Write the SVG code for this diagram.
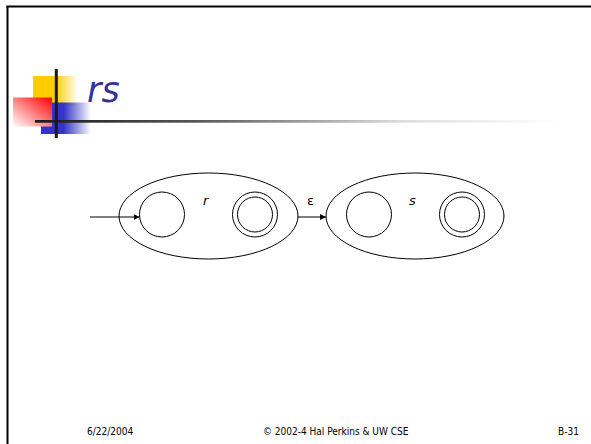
<svg xmlns="http://www.w3.org/2000/svg" width="591" height="444" viewBox="0 0 591 444">
  <defs>
    <linearGradient id="gYellow" x1="0" y1="0" x2="1" y2="0">
      <stop offset="0" stop-color="#ffcc00"/>
      <stop offset="0.5" stop-color="#ffcc00"/>
      <stop offset="1" stop-color="#ffcc00" stop-opacity="0"/>
    </linearGradient>
    <linearGradient id="gBlue" x1="0" y1="0" x2="1" y2="0">
      <stop offset="0" stop-color="#3333cc"/>
      <stop offset="0.45" stop-color="#3333cc"/>
      <stop offset="1" stop-color="#3333cc" stop-opacity="0"/>
    </linearGradient>
    <linearGradient id="gRed" x1="1" y1="0" x2="0" y2="1">
      <stop offset="0" stop-color="#ff0000"/>
      <stop offset="1" stop-color="#ffffff"/>
    </linearGradient>
    <linearGradient id="gRule" x1="0" y1="0" x2="1" y2="0">
      <stop offset="0" stop-color="#1a1a1a"/>
      <stop offset="0.3" stop-color="#555555"/>
      <stop offset="0.7" stop-color="#dddddd"/>
      <stop offset="1" stop-color="#ffffff"/>
    </linearGradient>
    <marker id="arrow" viewBox="0 0 10 10" refX="10" refY="5" markerWidth="6" markerHeight="6" markerUnits="userSpaceOnUse" orient="auto">
      <path d="M0,0 L10,5 L0,10 z" fill="#000"/>
    </marker>
  </defs>
  <style>
    .state { fill: none; stroke: #000; stroke-width: 1; }
    .box { fill: none; stroke: #000; stroke-width: 1; }
    .edge { stroke: #000; stroke-width: 1; fill: none; marker-end: url(#arrow); }
    .lbl { font-family: "DejaVu Sans", sans-serif; font-size: 13px; font-style: italic; fill: #000; }
    .foot { font-family: "DejaVu Sans Condensed", "DejaVu Sans", sans-serif; font-size: 10px; fill: #000; }
  </style>

  <rect width="591" height="444" fill="#ffffff"/>

  <!-- slide frame (top and left edges) -->
  <g id="frame">
    <line x1="6.5" y1="6.5" x2="591" y2="6.5" stroke="#000" stroke-width="2"/>
    <line x1="7.5" y1="6" x2="7.5" y2="444" stroke="#000" stroke-width="2"/>
  </g>

  <!-- title ornament -->
  <g id="ornament">
    <rect x="33" y="76" width="45" height="30" fill="url(#gYellow)"/>
    <rect x="41" y="102.5" width="50" height="31.5" fill="url(#gBlue)"/>
    <rect x="13" y="97.5" width="39" height="29" fill="url(#gRed)"/>
    <rect x="35" y="120" width="525" height="2.7" fill="url(#gRule)"/>
    <rect x="54.8" y="69" width="3" height="69" fill="#1a1a1a"/>
  </g>

  <text id="title" x="87" y="102" font-family="DejaVu Sans, sans-serif" font-size="35" font-style="italic" fill="#333399">rs</text>

  <!-- machine for r -->
  <g id="machine-r">
    <ellipse class="box" cx="208.5" cy="216" rx="89.5" ry="43"/>
    <text class="lbl" x="203" y="205">r</text>
  </g>
  <g id="r-start">
    <circle class="state" cx="162" cy="214.5" r="22.5"/>
  </g>
  <g id="r-final">
    <circle class="state" cx="255" cy="214.5" r="22.5"/>
    <circle class="state" cx="255" cy="214.5" r="17.5"/>
  </g>

  <!-- machine for s -->
  <g id="machine-s">
    <ellipse class="box" cx="415" cy="216" rx="89" ry="43"/>
    <text class="lbl" x="409" y="205">s</text>
  </g>
  <g id="s-start">
    <circle class="state" cx="369" cy="214.5" r="22.5"/>
  </g>
  <g id="s-final">
    <circle class="state" cx="462" cy="214.5" r="22.5"/>
    <circle class="state" cx="462" cy="214.5" r="17.5"/>
  </g>

  <!-- connectors -->
  <g id="connectors">
    <line class="edge" x1="90" y1="217" x2="139.5" y2="217"/>
    <line class="edge" x1="298" y1="217" x2="326" y2="217"/>
    <text x="307" y="205" font-family="DejaVu Sans, sans-serif" font-size="13" fill="#000">ε</text>
  </g>

  <!-- footer -->
  <g id="footer">
    <text class="foot" x="87" y="435">6/22/2004</text>
    <text class="foot" x="263" y="435">© 2002-4 Hal Perkins &amp; UW CSE</text>
    <text class="foot" x="558" y="435">B-31</text>
  </g>
</svg>
